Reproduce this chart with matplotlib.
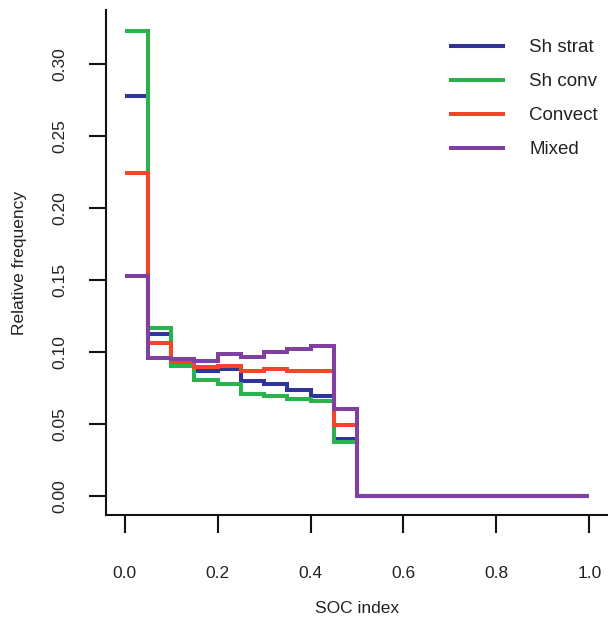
import matplotlib
matplotlib.use("Agg")
import matplotlib.pyplot as plt
import numpy as np

plt.rcParams["font.family"] = ["Liberation Sans", "DejaVu Sans"]

# SOC index bins (width 0.05) and relative frequency per regime
edges = np.round(np.arange(0, 1.0001, 0.05), 2)
sh_strat = [0.278, 0.1125, 0.0937, 0.087, 0.088, 0.080, 0.078, 0.0736, 0.0694, 0.0398,
            0, 0, 0, 0, 0, 0, 0, 0, 0, 0]
sh_conv = [0.323, 0.117, 0.0905, 0.0806, 0.078, 0.0708, 0.0694, 0.0676, 0.0657, 0.0377,
           0, 0, 0, 0, 0, 0, 0, 0, 0, 0]
convect = [0.224, 0.106, 0.093, 0.0898, 0.0905, 0.0868, 0.088, 0.087, 0.0866, 0.0495,
           0, 0, 0, 0, 0, 0, 0, 0, 0, 0]
mixed = [0.153, 0.096, 0.095, 0.0937, 0.0986, 0.0968, 0.0998, 0.1023, 0.104, 0.0607,
         0, 0, 0, 0, 0, 0, 0, 0, 0, 0]

series = [("Sh strat", sh_strat, "#30349a"),
          ("Sh conv", sh_conv, "#2bb24c"),
          ("Convect", convect, "#f2462b"),
          ("Mixed", mixed, "#8040a0")]

fig = plt.figure(figsize=(6.08, 6.19), dpi=100)
ax = fig.add_axes([0.1743, 0.168, 1 - 0.1743, 0.9838 - 0.168])

for name, vals, col in series:
    ax.stairs(vals, edges, baseline=None, color=col, lw=2.9, label=name)

ax.set_xlim(-0.04, 1.04)
ax.set_ylim(-0.0132, 0.3375)
ax.set_xticks([0.0, 0.2, 0.4, 0.6, 0.8, 1.0])
ax.set_xticklabels(["0.0", "0.2", "0.4", "0.6", "0.8", "1.0"])
ax.set_yticks([0.0, 0.05, 0.10, 0.15, 0.20, 0.25, 0.30])
ax.set_yticklabels(["0.00", "0.05", "0.10", "0.15", "0.20", "0.25", "0.30"])

for s in ("top", "right"):
    ax.spines[s].set_visible(False)
for s in ("left", "bottom"):
    ax.spines[s].set_linewidth(1.5)
    ax.spines[s].set_color("#111111")

ax.tick_params(axis="x", length=13, width=1.5, pad=24, labelsize=12.5,
               colors="#111111", labelcolor="#222222")
ax.tick_params(axis="y", length=12, width=1.5, pad=16, labelsize=12.5,
               colors="#111111", labelcolor="#222222", labelrotation=90)
for lab in ax.get_yticklabels():
    lab.set_va("center")

ax.set_xlabel("SOC index", fontsize=12.5, color="#222222", labelpad=14)
ax.set_ylabel("Relative frequency", fontsize=12.5, color="#222222", labelpad=18)

ax.legend(loc="upper left", bbox_to_anchor=(442 / 608, 1 - 30 / 619),
          bbox_transform=fig.transFigure, frameon=False, fontsize=13.5,
          borderpad=0, handlelength=2.75, handletextpad=1.4, labelspacing=0.9,
          labelcolor="#222222")

fig.savefig("out.png", dpi=100)
